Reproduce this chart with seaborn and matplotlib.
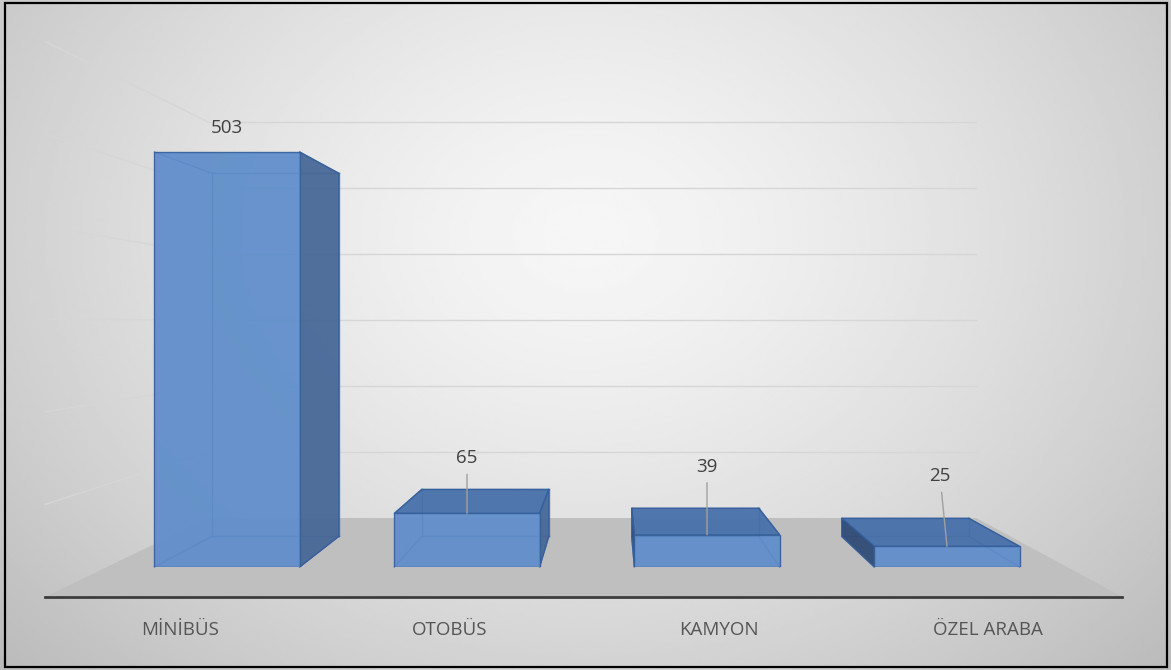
"""
Vehicle counts by type, drawn as a 3D-looking column chart (Excel style).
Front faces come from seaborn bars; depth faces are projected from them.
"""

import numpy as np
import matplotlib
matplotlib.use("Agg")
import matplotlib.pyplot as plt
from matplotlib.patches import Polygon, Rectangle
from matplotlib.lines import Line2D
from matplotlib.transforms import IdentityTransform
from matplotlib.ticker import MultipleLocator
import seaborn as sns

# Data
categories = ["MİNİBÜS", "OTOBÜS", "KAMYON", "ÖZEL ARABA"]
counts = [503, 65, 39, 25]

# label placement (pixels above the bar top, x shift) - styling only
label_lift = [24, 55, 68, 70]
label_shift = [0, 0, 0, -7]
use_leader = [False, True, True, True]

plt.rcParams['font.family'] = ['Open Sans', 'DejaVu Sans']

W, H = 1171, 670
fig = plt.figure(figsize=(W / 100, H / 100), dpi=100)

# ============================================================================
# Background: soft radial gradient
# ============================================================================
bg = fig.add_axes([0, 0, 1, 1], zorder=0)
gx, gy = np.meshgrid(np.linspace(0, 1, 400), np.linspace(0, 1, 240))
r = np.sqrt(((gx - 0.5) / 0.55) ** 2 + ((gy - 0.35) / 0.75) ** 2)
shade = 0.965 - 0.17 * np.clip(r, 0, 1.25) ** 1.4
bg.imshow(shade, cmap='gray', vmin=0, vmax=1, aspect='auto',
          extent=[0, 1, 0, 1], origin='upper', interpolation='bilinear')
bg.axis('off')

# ============================================================================
# Main axes = front plane of the bars
# ============================================================================
ax = fig.add_axes([107 / W, 103 / H, 960 / W, 495 / H], zorder=1)
ax.patch.set_alpha(0)

front_color = '#5d8cca'
edge_color = '#36609c'
sns.barplot(x=categories, y=counts, width=0.605, color=front_color,
            saturation=1, ax=ax)
ax.set_xlim(-0.5, 3.5)
ax.set_ylim(0, 600)
ax.yaxis.set_major_locator(MultipleLocator(100))
grid_values = [v for v in ax.get_yticks() if 0 < v <= 600]
ax.axis('off')

# perspective settings (display pixels)
VP = np.array([613.0, 348.0])
S_BAR_BACK = 0.875
S_FLOOR_FRONT = 1.122
S_FLOOR_BACK = 0.80
ident = IdentityTransform()


def proj(pt, s):
    return VP + (np.asarray(pt, dtype=float) - VP) * s


fig.canvas.draw()
(ax_x0, ax_y0), (ax_x1, ax_y1) = ax.transAxes.transform([(0, 0), (1, 1)])

# back wall + left wall gridlines
for v in grid_values:
    yv = ax.transData.transform((0, v))[1]
    p_l = proj((ax_x0, yv), S_FLOOR_BACK)
    p_r = proj((ax_x1, yv), S_FLOOR_BACK)
    p_f = proj((ax_x0, yv), S_FLOOR_FRONT)
    ax.add_line(Line2D([p_l[0], p_r[0]], [p_l[1], p_r[1]], color='#d6d6d6',
                       lw=1.0, transform=ident, clip_on=False, zorder=1))
    ax.add_line(Line2D([p_l[0], p_f[0]], [p_l[1], p_f[1]], color='#d6d6d6',
                       lw=1.0, transform=ident, clip_on=False, zorder=1))

# floor
floor = [proj((ax_x0, ax_y0), S_FLOOR_FRONT), proj((ax_x1, ax_y0), S_FLOOR_FRONT),
         proj((ax_x1, ax_y0), S_FLOOR_BACK), proj((ax_x0, ax_y0), S_FLOOR_BACK)]
ax.add_patch(Polygon(floor, closed=True, fc='#bfbfbf', ec='none',
                     transform=ident, clip_on=False, zorder=2))
ax.add_line(Line2D([floor[0][0], floor[1][0]], [floor[0][1], floor[1][1]],
                   color='#3d3d3d', lw=2.0, transform=ident, clip_on=False, zorder=3))

# ============================================================================
# 3D faces from the seaborn bars
# ============================================================================
for patch in ax.patches[:len(counts)]:
    x0 = patch.get_x()
    w = patch.get_width()
    h = patch.get_height()
    lx, by = ax.transData.transform((x0, 0))
    rx, ty = ax.transData.transform((x0 + w, h))

    f_lb, f_rb, f_rt, f_lt = (lx, by), (rx, by), (rx, ty), (lx, ty)
    b_lb, b_rb, b_rt, b_lt = [proj(p, S_BAR_BACK) for p in (f_lb, f_rb, f_rt, f_lt)]

    # hidden edges (seen through the transparent faces)
    for a, b in [(b_lb, b_rb), (b_rb, b_rt), (b_rt, b_lt), (b_lt, b_lb),
                 (f_lb, b_lb), (f_rb, b_rb), (f_rt, b_rt), (f_lt, b_lt)]:
        ax.add_line(Line2D([a[0], b[0]], [a[1], b[1]], color=edge_color, lw=1.0,
                           alpha=0.7, transform=ident, clip_on=False, zorder=4))

    faces = []
    if ty < VP[1]:
        faces.append(([f_lt, f_rt, b_rt, b_lt], '#4670aa'))
    if rx < VP[0]:
        faces.append(([f_rb, f_rt, b_rt, b_rb], '#476796'))
    if lx > VP[0]:
        faces.append(([f_lb, f_lt, b_lt, b_lb], '#2e4a75'))
    for pts, col in faces:
        ax.add_patch(Polygon(pts, closed=True, fc=col, ec=edge_color, lw=1.0,
                             alpha=0.94, transform=ident, clip_on=False, zorder=5))

    patch.set_alpha(0.92)
    patch.set_edgecolor(edge_color)
    patch.set_linewidth(1.0)
    patch.set_zorder(6)

# value labels with leader lines
for i, v in enumerate(counts):
    arrow = dict(arrowstyle='-', color='#a0a0a0', lw=1.0, shrinkA=3, shrinkB=0) \
        if use_leader[i] else None
    ax.annotate(f"{v}", xy=(i, v), xytext=(label_shift[i], label_lift[i]),
                textcoords='offset pixels', ha='center', va='center',
                fontsize=13.5, color='#404040', arrowprops=arrow, zorder=7,
                annotation_clip=False)

# category labels along the front edge of the floor
for i, cat in enumerate(categories):
    xd = ax.transData.transform((i, 0))[0]
    xp = proj((xd, ax_y0), S_FLOOR_FRONT)[0]
    fig.text(xp / W, 40 / H, cat, ha='center', va='center', fontsize=13.5,
             color='#555555')

# outer border
fig.add_artist(Rectangle((5 / W, 3 / H), (1167 - 5) / W, (667 - 3) / H,
                         transform=fig.transFigure, fill=False, ec='black', lw=1.6))

plt.savefig("out.png", dpi=100)
print("saved out.png")
